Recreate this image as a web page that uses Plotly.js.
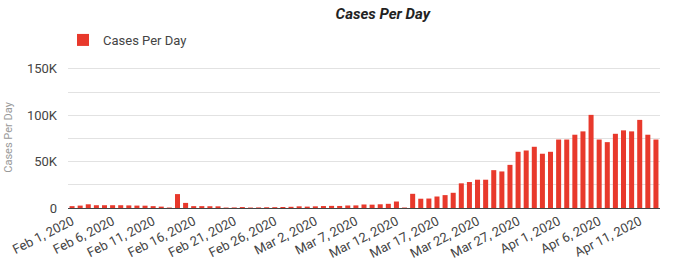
<!DOCTYPE html>
<html>
<head>
<meta charset="utf-8">
<script src="https://cdn.plot.ly/plotly-3.0.1.min.js"></script>
<style>
html,body{margin:0;padding:0;background:#fff;}
#chart{width:680px;height:271px;}
</style>
</head>
<body>
<div id="chart"></div>
<script>
// Daily dates, Feb 1 2020 to Apr 13 2020
var startDate = "2020-02-01";
var casesFeb = [2000, 2600, 4000, 3000, 3000, 3000, 3000, 2800, 2600, 2500,
                2000, 1500, 500, 15000, 5500, 2000, 2000, 1900, 1800, 500,
                600, 1000, 500, 600, 800, 900, 1100, 1300, 1800];
var casesMar = [1500, 1800, 2100, 2300, 2200, 2700, 2800, 3800, 3600, 4000,
                4500, 7000, 500, 15300, 10000, 10200, 12400, 13900, 16400, 26600,
                28000, 30500, 30500, 40800, 39400, 46500, 60600, 62000, 66000, 58500,
                60600];
var casesApr = [73800, 73800, 79000, 82600, 100400, 73800, 71000, 80000, 83700, 82600,
                95000, 79000, 73800];
var yTickVals = [0, 50000, 100000, 150000];
var yTickText = ["0", "50K", "100K", "150K"];
var seriesName = "Cases Per Day";
var chartTitle = "Cases Per Day";
var yTitle = "Cases Per Day";

var cases = casesFeb.concat(casesMar, casesApr);
var dates = [];
var d0 = new Date(startDate + "T00:00:00Z");
for (var i = 0; i < cases.length; i++) {
  var d = new Date(d0.getTime() + i * 86400000);
  dates.push(d.toISOString().slice(0, 10));
}

var trace = {
  type: "bar",
  x: dates,
  y: cases,
  name: seriesName,
  marker: {color: "#e8392c"},
  showlegend: true
};

var layout = {
  width: 680,
  height: 271,
  margin: {l: 68, r: 20, t: 67, b: 63},
  paper_bgcolor: "#ffffff",
  plot_bgcolor: "#ffffff",
  font: {family: "Roboto, 'Open Sans', sans-serif", color: "#444", size: 12},
  bargap: 0.38,
  title: {
    text: "<b><i>" + chartTitle + "</i></b>",
    font: {size: 15, color: "#222"},
    x: 0.563, xref: "container", xanchor: "center",
    y: 0.95, yref: "container", yanchor: "middle"
  },
  showlegend: true,
  legend: {
    xref: "paper", yref: "paper",
    x: -0.0084, y: 1.298, xanchor: "left", yanchor: "top",
    font: {size: 13, color: "#444"},
    bgcolor: "rgba(0,0,0,0)"
  },
  annotations: [{
    text: yTitle, textangle: -90, showarrow: false,
    xref: "paper", yref: "paper", x: -0.101, y: 0.5,
    xanchor: "center", yanchor: "middle",
    font: {size: 11, color: "#999"}
  }],
  xaxis: {
    type: "date",
    range: ["2020-01-31 12:00", "2020-04-13 12:00"],
    tick0: "2020-02-01",
    dtick: 5 * 86400000,
    tickformat: "%b %-d, %Y",
    tickangle: -27,
    showgrid: false,
    showline: true,
    linecolor: "#444",
    linewidth: 1,
    ticks: "",
    tickfont: {size: 13, color: "#444"},
    zeroline: false,
    automargin: false
  },
  yaxis: {
    range: [0, 152000],
    tickvals: yTickVals,
    ticktext: yTickText,
    showgrid: true,
    gridcolor: "#e2e2e2",
    gridwidth: 1,
    minor: {dtick: 25000, tick0: 0, showgrid: true, gridcolor: "#e2e2e2", gridwidth: 1},
    zeroline: false,
    ticks: "",
    ticklabelstandoff: 10,
    tickfont: {size: 13, color: "#444"},
    automargin: false
  }
};

Plotly.newPlot("chart", [trace], layout, {displayModeBar: false, staticPlot: true});
</script>
</body>
</html>
